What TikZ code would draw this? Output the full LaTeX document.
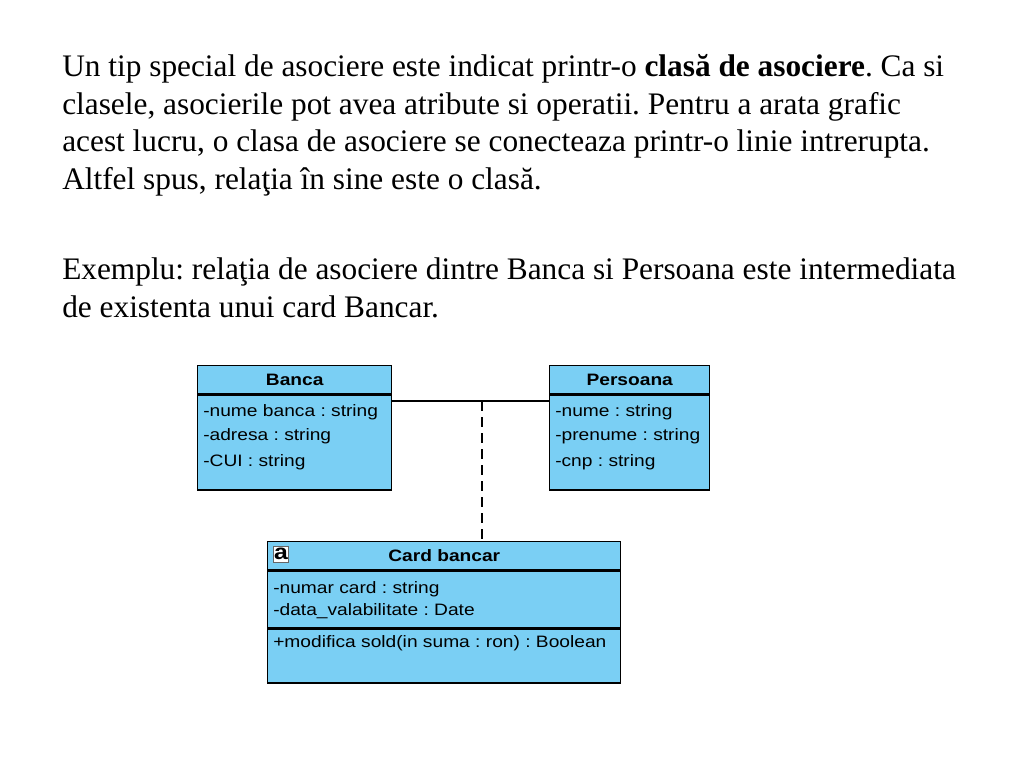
\documentclass[tikz,border=0pt]{standalone}
\usepackage{fontspec}
\setmainfont{Liberation Serif}
\newfontfamily\umlfont[FakeStretch=1.16]{Liberation Sans}
\usepackage{tikz}
\usetikzlibrary{positioning,calc}
\definecolor{umlblue}{RGB}{122,207,244}
\frenchspacing

\begin{document}
\begin{tikzpicture}[
  x=0.75pt,y=-0.75pt,
  txt/.style={anchor=base west,inner sep=0pt,font=\fontsize{23.5}{26}\selectfont},
  hdr/.style={draw,rectangle,fill=umlblue,line width=1.1pt,anchor=north west,minimum height=21pt,inner sep=0pt,font=\umlfont\fontsize{12.4}{14}\selectfont\bfseries},
  part/.style={draw,rectangle,fill=umlblue,line width=1.1pt,anchor=north west,inner sep=0pt},
  attr/.style={anchor=base west,inner sep=0pt,font=\umlfont\fontsize{12.4}{14}\selectfont},
]
\useasboundingbox (0,0) rectangle (1024,767);

% Text at the top
\node[txt] (t1) at (62,77) {Un tip special de asociere este indicat printr-o \textbf{clasă de asociere}. Ca si};
\node[txt] (t2) at (62,114) {clasele, asocierile pot avea atribute si operatii. Pentru a arata grafic};
\node[txt] (t3) at (62,151) {acest lucru, o clasa de asociere se conecteaza printr-o linie intrerupta.};
\node[txt] (t4) at (62,189) {Altfel spus, relaţia în sine este o clasă.};
\node[txt] (t5) at (62,279) {Exemplu: relaţia de asociere dintre Banca si Persoana este intermediata};
\node[txt] (t6) at (62,317) {de existenta unui card Bancar.};

% Banca (left)
\node[hdr,minimum width=145.5pt] (bh) at (197,365) {Banca};
\node[part,minimum width=145.5pt,minimum height=71pt] (ba) at (bh.south west) {};
\node[attr] (ba1) at (203,416) {-nume banca : string};
\node[attr] (ba2) at (203,440) {-adresa : string};
\node[attr] (ba3) at (203,466) {-CUI : string};

% Persoana (right)
\node[hdr,minimum width=120pt] (ph) at (549,365) {Persoana};
\node[part,minimum width=120pt,minimum height=71pt] (pa) at (ph.south west) {};
\node[attr] (pa1) at (555,416) {-nume : string};
\node[attr] (pa2) at (555,440) {-prenume : string};
\node[attr] (pa3) at (555,466) {-cnp : string};

% Card bancar (association class)
\node[hdr,minimum width=264.75pt] (ch) at (267,541) {Card bancar};
\node[part,minimum width=264.75pt,minimum height=42.75pt] (ca) at (ch.south west) {};
\node[part,minimum width=264.75pt,minimum height=40pt] (co) at (ca.south west) {};
\node[draw=black!60,fill=white,inner sep=0.3pt,minimum width=10pt,minimum height=12pt,font=\umlfont\fontsize{16}{16}\selectfont\bfseries] (icon) at (281,554) {a};
\node[attr] (ca1) at (273,593) {-numar card : string};
\node[attr] (ca2) at (273,615) {-data\_valabilitate : Date};
\node[attr] (co1) at (273,647) {+modifica sold(in suma : ron) : Boolean};

% association and dashed link
\coordinate (mid) at (482,401);
\draw[line width=1.1pt] (ba.east |- mid) -- (pa.west |- mid);
\draw[line width=1.1pt,dash pattern=on 7.5pt off 4.5pt] (mid) -- (ch.north -| mid);

\end{tikzpicture}
\end{document}
